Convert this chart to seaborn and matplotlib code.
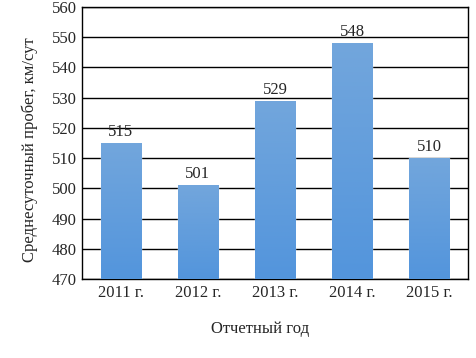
import matplotlib
matplotlib.use("Agg")
import matplotlib.pyplot as plt
import numpy as np
import pandas as pd
import seaborn as sns
from matplotlib.colors import LinearSegmentedColormap

# data
years = ["2011 г.", "2012 г.", "2013 г.", "2014 г.", "2015 г."]
mileage = [515, 501, 529, 548, 510]

sns.set_style("white")
plt.rcParams['font.family'] = ['Liberation Serif', 'DejaVu Serif']

df = pd.DataFrame({"year": years, "mileage": mileage})

fig = plt.figure(figsize=(4.77, 3.58), dpi=100)
ax = fig.add_axes([82 / 477, 1 - 279 / 358, (468 - 82) / 477, (279 - 7) / 358])

sns.barplot(data=df, x="year", y="mileage", color="#629fdc", width=0.52,
            saturation=1, ax=ax, zorder=3)

ax.set_ylim(470, 560)
ax.set_yticks(range(470, 561, 10))
ax.yaxis.grid(True, color="black", linewidth=1)
ax.set_axisbelow(True)
for s in ax.spines.values():
    s.set_color("black")
    s.set_linewidth(1)
ax.tick_params(axis="both", length=0, labelsize=12, pad=4)

# vertical gradient on every bar (lighter top, darker bottom)
grad_cmap = LinearSegmentedColormap.from_list("g", ["#5395dc", "#72a6dc"])
grad = np.linspace(0, 1, 100).reshape(-1, 1)
for p in ax.patches:
    x0, y0 = p.get_x(), p.get_y()
    w, h = p.get_width(), p.get_height()
    im = ax.imshow(grad, cmap=grad_cmap, origin="lower", aspect="auto",
                   extent=[x0, x0 + w, 470, y0 + h], zorder=4)
    im.set_clip_path(p)

for i, v in enumerate(mileage):
    ax.text(i, v + 1.0, str(v), ha="center", va="bottom", fontsize=12, zorder=5)

ax.set_xlim(-0.5, 4.5)
ax.set_xlabel("Отчетный год", fontsize=12)
ax.set_ylabel("Среднесуточный пробег, км/сут", fontsize=12)
ax.xaxis.set_label_coords(0.461, -0.154)
ax.yaxis.set_label_coords(-0.114, 0.474)

fig.savefig("out.png", dpi=100)
